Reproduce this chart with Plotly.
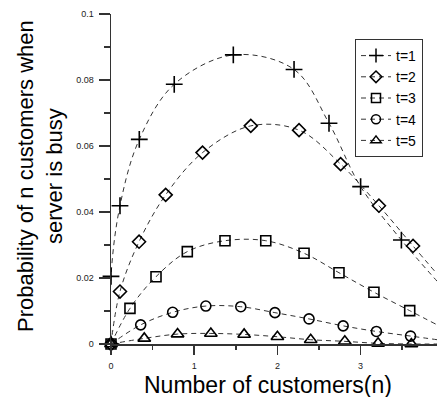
import plotly.graph_objects as go

# ---- data (x = customers n, y = probability) ----
series_names = ["t=1", "t=2", "t=3", "t=4", "t=5"]

x_t1 = [0.0, 0.0, 0.108, 0.34, 0.76, 1.47, 2.20, 2.62, 3.00, 3.49, 3.92]
y_t1 = [0.0, 0.0205, 0.0419, 0.0620, 0.0787, 0.0876, 0.0832, 0.0669, 0.0477, 0.0315, 0.0190]

x_t2 = [0.0, 0.108, 0.337, 0.657, 1.10, 1.68, 2.26, 2.76, 3.22, 3.63, 3.92]
y_t2 = [0.0, 0.0159, 0.0310, 0.0452, 0.0580, 0.0661, 0.0648, 0.0545, 0.0419, 0.0297, 0.0212]

x_t3 = [0.0, 0.228, 0.541, 0.917, 1.37, 1.86, 2.32, 2.74, 3.16, 3.59, 3.92]
y_t3 = [0.0, 0.0108, 0.0204, 0.0280, 0.0313, 0.0313, 0.0275, 0.0216, 0.0157, 0.0101, 0.0058]

x_t4 = [0.0, 0.357, 0.741, 1.14, 1.56, 1.97, 2.38, 2.79, 3.19, 3.60, 3.92]
y_t4 = [0.0, 0.0058, 0.0096, 0.0115, 0.0113, 0.0095, 0.0076, 0.0055, 0.0038, 0.0024, 0.0013]

x_t5 = [0.0, 0.40, 0.80, 1.20, 1.60, 2.00, 2.40, 2.81, 3.21, 3.61, 3.92]
y_t5 = [0.0, 0.0017, 0.0030, 0.0032, 0.0029, 0.0022, 0.0013, 0.0008, 0.0002, 0.0000, 0.0000]

# last point of each list is the end of the smoothed curve (no marker there)
xs = [x_t1, x_t2, x_t3, x_t4, x_t5]
ys = [y_t1, y_t2, y_t3, y_t4, y_t5]

y_ticks = [0, 0.02, 0.04, 0.06, 0.08, 0.1]
y_tick_labels = ["0", "0.02", "0.04", "0.06", "0.08", "0.1"]
x_ticks = [0, 1, 2, 3]
x_tick_labels = ["0", "1", "2", "3"]

x_title = "Number of customers(n)"
y_title = "Probability of n customers when<br>server is busy"

symbols = ["cross-thin-open", "diamond-open", "square-open", "circle-open", "triangle-up-open"]
msizes = [12, 10, 10, 10, 11]
legend_msizes = [10, 9, 9, 9, 9]

FONT = "Liberation Sans, Arial, sans-serif"
LINE_COLOR = "#333333"
DASH = "5px,4px"

fig = go.Figure()
for name, x, y, sym, ms, lms in zip(series_names, xs, ys, symbols, msizes, legend_msizes):
    # smoothed dashed curve
    fig.add_trace(go.Scatter(
        x=x, y=y, mode="lines", showlegend=False, hoverinfo="skip",
        line=dict(color=LINE_COLOR, width=1, dash=DASH, shape="spline", smoothing=1.0),
        cliponaxis=True,
    ))
    # markers
    fig.add_trace(go.Scatter(
        x=x[:-1], y=y[:-1], mode="markers", showlegend=False, name=name,
        marker=dict(symbol=sym, size=ms, color="black",
                    line=dict(color="black", width=1.6)),
        cliponaxis=False,
    ))
    # legend entry
    fig.add_trace(go.Scatter(
        x=[None], y=[None], mode="lines+markers", name=name,
        line=dict(color=LINE_COLOR, width=1, dash=DASH),
        marker=dict(symbol=sym, size=lms, color="black",
                    line=dict(color="black", width=1.5)),
    ))

fig.update_layout(
    width=437, height=397,
    margin=dict(l=111, r=0, t=14, b=53),
    paper_bgcolor="white", plot_bgcolor="white",
    font=dict(family=FONT, color="black"),
    showlegend=True,
    legend=dict(
        x=(355 - 111) / 326, y=(344 - 39) / 330, xanchor="left", yanchor="top",
        bgcolor="white", bordercolor="#333333", borderwidth=1,
        font=dict(size=14, family=FONT, color="black"),
        itemwidth=30, tracegroupgap=0,
    ),
    xaxis=dict(
        range=[0, 3.918], showgrid=False, zeroline=False,
        showline=True, linecolor=LINE_COLOR, linewidth=1.5,
        tickmode="array", tickvals=x_ticks, ticktext=x_tick_labels,
        ticks="outside", ticklen=9, tickwidth=1.5, tickcolor=LINE_COLOR,
        tickfont=dict(size=9, color="#222222"), ticklabelstandoff=4,
        minor=dict(dtick=0.5, tick0=0, ticks="outside", ticklen=4,
                   tickwidth=1.5, tickcolor=LINE_COLOR, showgrid=False),
    ),
    yaxis=dict(
        range=[0, 0.1], showgrid=False, zeroline=False,
        showline=True, linecolor=LINE_COLOR, linewidth=1.5,
        tickmode="array", tickvals=y_ticks, ticktext=y_tick_labels,
        ticks="outside", ticklen=11, tickwidth=1.5, tickcolor=LINE_COLOR,
        tickfont=dict(size=9, color="#222222"), ticklabelstandoff=3,
        minor=dict(dtick=0.01, tick0=0, ticks="outside", ticklen=6,
                   tickwidth=1.5, tickcolor=LINE_COLOR, showgrid=False),
    ),
    annotations=[
        dict(text=x_title, xref="paper", yref="paper",
             x=(267.5 - 111) / 326, y=(344 - 385) / 330,
             xanchor="center", yanchor="middle", showarrow=False,
             font=dict(size=23, family=FONT, color="black")),
        dict(text=y_title, xref="paper", yref="paper",
             x=(40 - 111) / 326, y=(344 - 176) / 330,
             xanchor="center", yanchor="middle", showarrow=False, textangle=-90,
             font=dict(size=22, family=FONT, color="black")),
    ],
)

fig.write_html("out.html",
               config={"displayModeBar": False, "staticPlot": True},
               post_script="document.body.style.margin='0';document.body.style.overflow='hidden';")
